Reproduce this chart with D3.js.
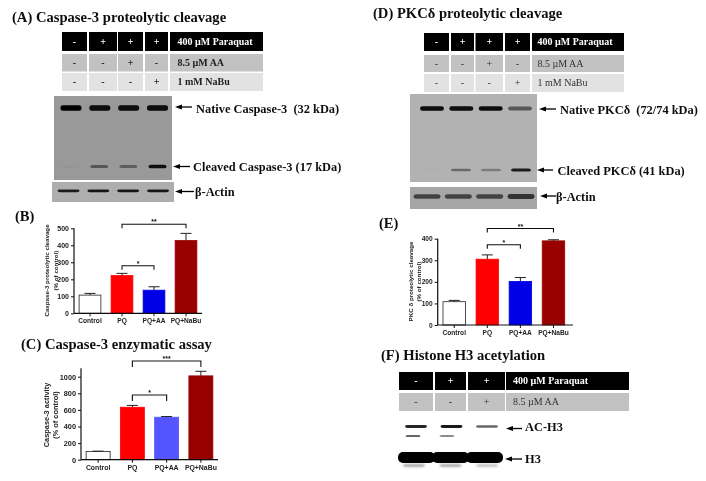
<!DOCTYPE html>
<html><head><meta charset="utf-8">
<script src="https://cdn.jsdelivr.net/npm/d3@7/dist/d3.min.js"></script>
<style>html,body{margin:0;padding:0;background:#fff;overflow:hidden}svg{display:block}
.serif{font-family:"Liberation Serif",serif;font-weight:bold}
.sans{font-family:"Liberation Sans",Arial,sans-serif;font-weight:bold}</style>
</head><body><svg id="c" width="706" height="481"></svg>
<script>
const categories = ["Control","PQ","PQ+AA","PQ+NaBu"];
const barFillsB = ["#ffffff","#ff0000","#0000e6","#990000"];
const barFillsC = ["#ffffff","#ff0000","#5555ff","#990000"];
const valuesB = [107,222,136,428], errorsB = [10,13,20,42];
const valuesC = [100,632,512,1010], errorsC = [3,22,8,55];
const valuesE = [108,305,202,390], errorsE = [6,20,18,5];
const ticksB = [0,100,200,300,400,500];
const ticksC = [0,200,400,600,800,1000];
const ticksE = [0,100,200,300,400];
const paraquat4 = ["-","+","+","+"], aa4 = ["-","-","+","-"], nabu4 = ["-","-","-","+"];
const paraquat3 = ["-","+","+"], aa3 = ["-","-","+"];
const nativeA = [1,.95,.95,.95], cleavedA = [.03,.45,.4,.9], actinA = [.9,.95,.95,.95];
const nativeD = [.95,.95,.9,.5], cleavedD = [.02,.4,.3,.85], actinD = [.75,.75,.75,.85];
const acH3 = [.85,.9,.6], acH3Lower = [.8,.6,0], h3 = [1,1,1], h3Smear = [.6,.6,.5];

const svg = d3.select("#c");
const defs = svg.append("defs");
[[.7,"bl"],[.3,"soft"],[1.1,"bl2"]].forEach(([s,id])=>defs.append("filter").attr("id",id)
  .attr("x","-20%").attr("y","-60%").attr("width","140%").attr("height","220%")
  .append("feGaussianBlur").attr("stdDeviation",s));

function text(g,x,y,s,size,cls,fill,anchor,extra){
  const t=g.append("text").attr("x",x).attr("y",y).attr("class",cls).attr("font-size",size)
    .attr("fill",fill||"#111").attr("text-anchor",anchor||"start").text(s);
  if(extra) t.style("font-weight",extra);
  return t;
}
const root = svg.append("g").attr("filter","url(#soft)");

function table(rows,cols,inset){
  const g=root.append("g");
  rows.forEach(r=>{
    cols.forEach((c,i)=>{
      g.append("rect").attr("x",c[0]).attr("width",c[1]-c[0]).attr("y",r.y0).attr("height",r.y1-r.y0).attr("fill",r.fill);
      const label=i<r.signs.length?r.signs[i]:r.label;
      const last=i===r.signs.length;
      text(g,last?c[0]+inset:(c[0]+c[1])/2,(r.y0+r.y1)/2+3.3,label,10,"serif",r.color,last?"start":"middle",r.weight);
    });
  });
}
const colsA=[[62,87],[89,117],[118,143],[145,168],[170,263]];
table([
 {y0:32,y1:51,fill:"#000",color:"#fff",signs:paraquat4,label:"400 µM Paraquat"},
 {y0:54,y1:71.5,fill:"#c2c2c2",color:"#222",signs:aa4,label:"8.5 µM AA"},
 {y0:73,y1:91,fill:"#e2e2e2",color:"#222",signs:nabu4,label:"1 mM NaBu"}],colsA,7.5);
const colsD=[[424,449],[451,474],[475.5,503],[505,530],[532,624]];
table([
 {y0:33,y1:51,fill:"#000",color:"#fff",signs:paraquat4,label:"400 µM Paraquat"},
 {y0:55,y1:72,fill:"#c2c2c2",color:"#333",signs:aa4,label:"8.5 µM AA",weight:"normal"},
 {y0:74,y1:92,fill:"#e2e2e2",color:"#333",signs:nabu4,label:"1 mM NaBu",weight:"normal"}],colsD,5.5);
const colsF=[[399,433],[435,466],[468,505],[506,629]];
table([
 {y0:372,y1:390,fill:"#000",color:"#fff",signs:paraquat3,label:"400 µM Paraquat"},
 {y0:393,y1:411,fill:"#c2c2c2",color:"#333",signs:aa3,label:"8.5 µM AA",weight:"normal"}],colsF,7);

function blot(o){
  const g=root.append("g");
  if(o.bg) g.append("rect").attr("x",o.x0).attr("y",o.y0).attr("width",o.x1-o.x0).attr("height",o.y1-o.y0).attr("fill",o.bg);
  o.rows.forEach(row=>{
    const lx=d3.scalePoint().domain(d3.range(row.vals.length)).range(row.span);
    const bandsG=g.append("g").attr("filter",`url(#${row.blur||"bl"})`);
    bandsG.selectAll("rect").data(row.vals).join("rect")
      .attr("x",(d,i)=>lx(i)-row.w/2).attr("width",row.w)
      .attr("y",d=>row.y-row.h*(.7+.3*d)/2).attr("height",d=>row.h*(.7+.3*d))
      .attr("rx",row.r===undefined?2.5:row.r)
      .attr("fill",row.color||"#050505")
      .attr("opacity",d=>Math.min(1,d));
  });
}
function arrow(x1,x2,y){
  root.append("line").attr("x1",x1).attr("x2",x2+5).attr("y1",y).attr("y2",y).attr("stroke","#000").attr("stroke-width",1.3);
  root.append("path").attr("d",`M${x2},${y}l7,-2.6v5.2Z`).attr("fill","#000");
}
blot({x0:54,x1:172,y0:96,y1:180,bg:"#999999",rows:[
  {y:108,w:21,h:5.6,span:[71,157.5],vals:nativeA},{y:166.5,w:18,h:3.8,span:[70,157.5],vals:cleavedA}]});
blot({x0:52,x1:174,y0:182,y1:202,bg:"#aeaeae",rows:[{y:190.8,w:22,h:2.8,span:[68.5,158],vals:actinA,color:"#111"}]});
blot({x0:410,x1:537,y0:94,y1:182,bg:"#b2b2b2",rows:[
  {y:108.5,w:24,h:4.6,span:[432,520],vals:nativeD},{y:170,w:20,h:3.2,span:[431,521],vals:cleavedD}]});
blot({x0:410,x1:537,y0:187,y1:209,bg:"#a6a6a6",rows:[{y:196.5,w:27,h:5,span:[427,521],vals:actinD,color:"#222"}]});
blot({rows:[
  {y:426.5,w:22,h:3,span:[416,487],vals:acH3},
  {y:436,w:15,h:1.8,span:[413,481],vals:acH3Lower},
  {y:457.5,w:37,h:11,span:[416.5,484.5],vals:h3,r:5},
  {y:465.5,w:22,h:2.6,span:[414,487],vals:h3Smear,color:"#555",blur:"bl2"}]});

arrow(192,175,107); arrow(190,173,166.5); arrow(194,175,191.5);
arrow(556,539,109); arrow(553,537,170); arrow(556,540,196);
arrow(522,506,428.5); arrow(522,505,459);

const sz=12.4;
text(root,196,112.5,"Native Caspase-3  (32 kDa)",sz,"serif").style("white-space","pre");
text(root,193,171,"Cleaved Caspase-3 (17 kDa)",sz,"serif");
text(root,195,196,"β-Actin",sz,"serif");
text(root,560,114,"Native PKCδ  (72/74 kDa)",sz,"serif").style("white-space","pre");
text(root,557.5,175,"Cleaved PKCδ (41 kDa)",sz,"serif");
text(root,556,201,"β-Actin",sz,"serif");
text(root,525,431,"AC-H3",sz,"serif");
text(root,525,463,"H3",sz,"serif");

const ts=14.6;
text(root,12,22,"(A) Caspase-3 proteolytic cleavage",ts,"serif");
text(root,373,18,"(D) PKCδ proteolytic cleavage",ts,"serif");
text(root,15,221,"(B)",ts,"serif");
text(root,21,349,"(C) Caspase-3 enzymatic assay",ts,"serif");
text(root,379,227.5,"(E)",ts,"serif");
text(root,381,360,"(F) Histone H3 acetylation",ts,"serif");

function chart(o){
  const g=root.append("g");
  const y=d3.scaleLinear().domain(o.domain).range([o.base,o.top]);
  const x=d3.scaleBand().domain(categories).range([o.x0,o.x1]).paddingInner(o.pad).paddingOuter(o.pad/2);
  g.selectAll("rect.b").data(categories).join("rect").attr("class","b")
    .attr("x",d=>x(d)).attr("width",x.bandwidth())
    .attr("y",(d,i)=>y(o.values[i])).attr("height",(d,i)=>o.base-y(o.values[i]))
    .attr("fill",(d,i)=>o.fills[i]).attr("stroke",(d,i)=>i===0?"#222":o.fills[i]).attr("stroke-width",.8);
  categories.forEach((c,i)=>{
    const cx=x(c)+x.bandwidth()/2, v=o.values[i], e=o.errors[i];
    g.append("path").attr("d",`M${cx},${y(v)}V${y(v+e)}M${cx-5.5},${y(v+e)}H${cx+5.5}`)
      .attr("stroke","#222").attr("fill","none").attr("stroke-width",1);
  });
  const axL=d3.axisLeft(y).tickValues(o.ticks).tickFormat(d3.format("d")).tickSize(3).tickPadding(2);
  const gy=g.append("g").attr("transform",`translate(${o.axX},0)`).call(axL);
  gy.select(".domain").attr("d",`M0,${o.base}V${o.axTop}`);
  const axB=d3.axisBottom(x).tickSize(3).tickPadding(2);
  const gx=g.append("g").attr("transform",`translate(0,${o.base})`).call(axB);
  gx.select(".domain").attr("d",`M${o.axX},0H${o.axEnd}`);
  [gy,gx].forEach(a=>{a.selectAll(".domain").attr("stroke","#111").attr("stroke-width",1.2);
    a.selectAll("line").attr("stroke","#111").attr("stroke-width",1);});
  gy.selectAll("text").attr("class","sans").attr("font-size",o.fs).attr("fill","#222");
  gx.selectAll("text").attr("class","sans").attr("font-size",o.cfs).attr("fill","#222");
  o.ylabels.forEach((l,i)=>{
    text(g,0,0,l,o.ls,"sans","#222","middle").attr("transform",`translate(${o.lx[i]},${o.lc}) rotate(-90)`);
  });
  o.brackets.forEach(b=>{
    const xa=x(categories[b.from])+x.bandwidth()/2, xb=x(categories[b.to])+x.bandwidth()/2;
    const yt=y(b.at), yd=yt+o.drop;
    g.append("path").attr("d",`M${xa},${yd}V${yt}H${xb}V${yd}`).attr("fill","none").attr("stroke","#111").attr("stroke-width",1.1);
    text(g,(xa+xb)/2,yt,b.label,7,"sans","#111","middle");
  });
}
chart({domain:[0,500],base:313.3,top:228.3,axTop:228.3,x0:74,x1:202,pad:.32,axX:74,axEnd:202,values:valuesB,errors:errorsB,fills:barFillsB,
 ticks:ticksB,fs:7,cfs:6.6,ls:6.2,lx:[49,58],lc:270.5,drop:4,
 ylabels:["Caspase-3 proteolytic cleavage","(% of control)"],
 brackets:[{from:1,to:3,at:524,label:"**"},{from:1,to:2,at:280,label:"*"}]});
chart({domain:[0,1000],base:459.7,top:376.7,axTop:368.3,x0:81,x1:218,pad:.3,axX:81,axEnd:218,values:valuesC,errors:errorsC,fills:barFillsC,
 ticks:ticksC,fs:7.3,cfs:6.9,ls:7.4,lx:[48.5,58],lc:415,drop:6,
 ylabels:["Caspase-3 activity","(% of control)"],
 brackets:[{from:1,to:3,at:1190,label:"***"},{from:1,to:2,at:780,label:"*"}]});
chart({domain:[0,400],base:325,top:238.7,axTop:238.7,x0:437.7,x1:570,pad:.32,axX:437.7,axEnd:573,values:valuesE,errors:errorsE,fills:barFillsB,
 ticks:ticksE,fs:6.6,cfs:6.6,ls:6.2,lx:[413,421],lc:281.5,drop:4,
 ylabels:["PKC δ proteolytic cleavage","(% of control)"],
 brackets:[{from:1,to:3,at:447,label:"**"},{from:1,to:2,at:372,label:"*"}]});
</script></body></html>
